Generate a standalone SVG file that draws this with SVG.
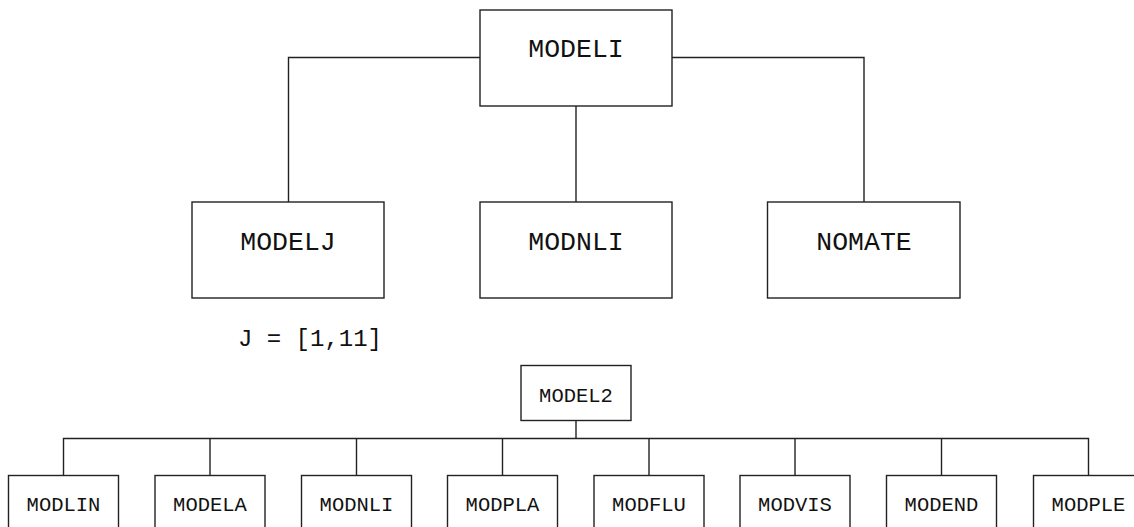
<svg xmlns="http://www.w3.org/2000/svg" width="1134" height="527" viewBox="0 0 1134 527">
<style>
.box{fill:#fff;stroke:#222;stroke-width:1.4}
.ln{fill:none;stroke:#222;stroke-width:1.4}
.big{font-family:"Liberation Mono","Courier New",monospace;font-size:26.5px;fill:#111;text-anchor:middle}
.sm{font-family:"Liberation Mono","Courier New",monospace;font-size:20.5px;fill:#111;text-anchor:middle}
</style>
<rect width="1134" height="527" fill="#fff"/>
<g id="connectors">
<path class="ln" d="M480,57.5 H288.5 V202"/>
<path class="ln" d="M672,57.5 H864 V202"/>
<path class="ln" d="M576,106 V202"/>
<path class="ln" d="M576,420 V438.5"/>
<path class="ln" d="M63.5,475 V438.5 H1088.5 V475"/>
<path class="ln" d="M210,438.5 V475 M356.5,438.5 V475 M502.5,438.5 V475 M649,438.5 V475 M795,438.5 V475 M941.5,438.5 V475"/>
</g>
<g id="MODELI"><rect class="box" x="480" y="10" width="192" height="96"/><text class="big" x="576" y="56.5">MODELI</text></g>
<g id="MODELJ"><rect class="box" x="192" y="202" width="192" height="96"/><text class="big" x="288" y="249.5">MODELJ</text></g>
<g id="MODNLI-top"><rect class="box" x="480" y="202" width="192" height="96"/><text class="big" x="576" y="249.5">MODNLI</text></g>
<g id="NOMATE"><rect class="box" x="767.5" y="202" width="192.5" height="96"/><text class="big" x="864" y="249.5">NOMATE</text></g>
<text class="big" x="238" y="345.5" style="text-anchor:start;font-size:24px">J = [1,11]</text>
<g id="MODEL2"><rect class="box" x="521" y="365.5" width="110" height="55"/><text class="sm" x="576" y="401.5">MODEL2</text></g>
<g id="MODLIN"><rect class="box" x="8.5" y="475.5" width="110" height="70"/><text class="sm" x="63.5" y="510.5">MODLIN</text></g>
<g id="MODELA"><rect class="box" x="155" y="475.5" width="110" height="70"/><text class="sm" x="210" y="510.5">MODELA</text></g>
<g id="MODNLI-bottom"><rect class="box" x="301.5" y="475.5" width="110" height="70"/><text class="sm" x="356.5" y="510.5">MODNLI</text></g>
<g id="MODPLA"><rect class="box" x="447.5" y="475.5" width="110" height="70"/><text class="sm" x="502.5" y="510.5">MODPLA</text></g>
<g id="MODFLU"><rect class="box" x="594" y="475.5" width="110" height="70"/><text class="sm" x="649" y="510.5">MODFLU</text></g>
<g id="MODVIS"><rect class="box" x="740" y="475.5" width="110" height="70"/><text class="sm" x="795" y="510.5">MODVIS</text></g>
<g id="MODEND"><rect class="box" x="886.5" y="475.5" width="110" height="70"/><text class="sm" x="941.5" y="510.5">MODEND</text></g>
<g id="MODPLE"><rect class="box" x="1033.5" y="475.5" width="110" height="70"/><text class="sm" x="1088.5" y="510.5">MODPLE</text></g>
</svg>
